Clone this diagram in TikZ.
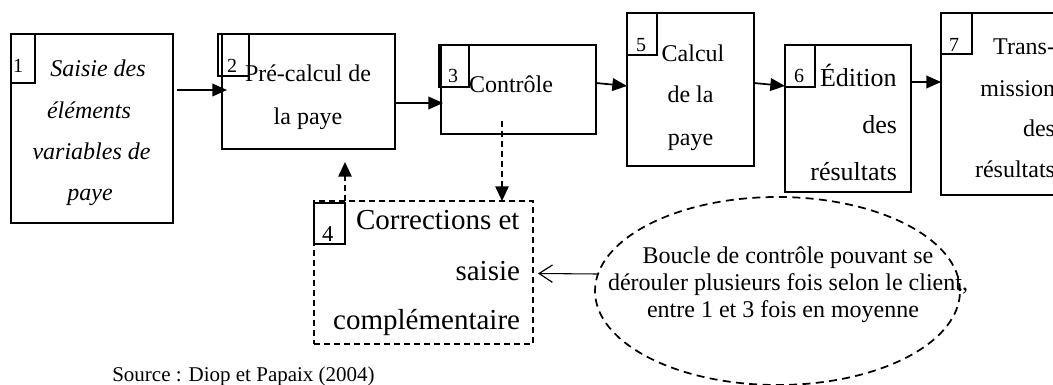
\documentclass[tikz,border=0pt]{standalone}
\usepackage{fontspec}
\setmainfont{Liberation Serif}
\usetikzlibrary{arrows.meta,shapes.geometric,fit,calc}
\newcommand\myfs[1]{\fontsize{#1}{#1}\selectfont}
\begin{document}
\begin{tikzpicture}[x=0.75pt,y=-0.75pt,
  box/.style={draw, line width=1.3pt, inner sep=0pt, outer sep=0pt},
  dbox/.style={draw, line width=1.3pt, inner sep=0pt, outer sep=0pt, dash pattern=on 4.5pt off 3pt},
  numtxt/.style={inner sep=0pt, outer sep=0pt, anchor=base west, font=\myfs{15pt}},
  txt/.style={inner sep=0pt, outer sep=0pt, font=\myfs{18pt}},
  txtsix/.style={inner sep=0pt, outer sep=0pt, font=\myfs{19.5pt}},
  txtfour/.style={inner sep=0pt, outer sep=0pt, font=\myfs{21.75pt}},
  arr/.style={line width=1.3pt, -{Triangle[length=11pt,width=9.5pt]}},
  darr/.style={line width=1.3pt, dash pattern=on 4.5pt off 3pt, -{Triangle[length=11pt,width=10pt]}},
  oarr/.style={line width=0.8pt, -{Straight Barb[length=10pt,width=13pt,line width=0.9pt]}},
  ell/.style={draw, ellipse, line width=1.3pt, dash pattern=on 6pt off 4pt, inner sep=0pt,
    minimum width=273.75pt, minimum height=141pt}
]
\useasboundingbox (0,0) rectangle (1053,385);
\begin{scope}
\clip (0,0) rectangle (1053,385);
% main boxes
\node[box, fit={(11,34) (173,223)}] (b1) {};
\node[box, fit={(222,34) (395,149)}] (b2) {};
\node[box, fit={(441,45) (596,134)}] (b3) {};
\node[box, fit={(627,13) (754,166)}] (b5) {};
\node[box, fit={(785,45) (911,192)}] (b6) {};
\node[box, fit={(941,13) (1065,195)}] (b7) {};
\node[dbox, fit={(314,201) (533,344)}] (b4) {};
% number boxes
\node[box, fit={(11,34) (35,83)}] (n1) {};
\node[box, fit={(218,34) (249,76)}] (n2) {};
\node[box, fit={(439,45) (469,87)}] (n3) {};
\node[box, fit={(627,13) (657,55)}] (n5) {};
\node[box, fit={(785,45) (815,87)}] (n6) {};
\node[box, fit={(941,13) (972,54)}] (n7) {};
\node[box, fit={(314,203) (345,244)}] (n4) {};
% numbers
\node[numtxt] (l1) at (13,73) {1};
\node[numtxt] (l2) at (227,73) {2};
\node[numtxt] (l3) at (448,83) {3};
\node[numtxt] (l5) at (636,52) {5};
\node[numtxt] (l6) at (794,83) {6};
\node[numtxt] (l7) at (949,52) {7};
\node[numtxt, font=\myfs{17pt}] (l4) at (322,241) {4};
% box 1 text
\node[txt, anchor=base, font=\myfs{18pt}\itshape] (t1a) at (98,77) {Saisie des};
\node[txt, anchor=base, font=\myfs{18pt}\itshape] (t1b) at (89,118) {éléments};
\node[txt, anchor=base, font=\myfs{18pt}\itshape] (t1c) at (91.5,159) {variables de};
\node[txt, anchor=base, font=\myfs{18pt}\itshape] (t1d) at (90,200) {paye};
% box 2 text
\node[txt, anchor=base west] (t2a) at (245,82) {Pré-calcul de};
\node[txt, anchor=base] (t2b) at (308,124) {la paye};
% box 3 text
\node[txt, anchor=base west] (t3a) at (469,93) {Contrôle};
% box 5 text
\node[txt, anchor=base] (t5a) at (693,62) {Calcul};
\node[txt, anchor=base] (t5b) at (690.5,103) {de la};
\node[txt, anchor=base] (t5c) at (690.5,145) {paye};
% box 6 text
\node[txtsix, anchor=base west] (t6a) at (820,87) {Édition};
\node[txtsix, anchor=base east] (t6b) at (897,133) {des};
\node[txtsix, anchor=base east] (t6c) at (897,180) {résultats};
% box 7 text
\node[txt, anchor=base east] (t7a) at (1055,55) {Trans-};
\node[txt, anchor=base east] (t7b) at (1055,97) {mission};
\node[txt, anchor=base east] (t7c) at (1055,137) {des};
\node[txt, anchor=base east] (t7d) at (1055,177) {résultats};
% box 4 text
\node[txtfour, anchor=base west] (t4a) at (356,229) {Corrections et};
\node[txtfour, anchor=base east] (t4b) at (520,280) {saisie};
\node[txtfour, anchor=base east] (t4c) at (520,329) {complémentaire};
% ellipse
\node[ell] (el) at (777.5,291) {};
\node[txt, anchor=base] (e1) at (788,263) {Boucle de contrôle pouvant se};
\node[txt, anchor=base] (e2) at (788,290) {dérouler plusieurs fois selon le client,};
\node[txt, anchor=base] (e3) at (783,317) {entre 1 et 3 fois en moyenne};
% source
\node[inner sep=0pt, anchor=base west, font=\myfs{15.75pt}] (src) at (112,381) {Source : Diop et Papaix (2004)};
% connectors
\draw[arr] ($(b1.north east)+(4,56)$) -- ($(b2.north west)+(5,56)$);
\draw[arr] ($(b2.north east)+(0,69)$) -- ($(b3.north west)+(2,58)$);
\draw[arr] ($(b3.north east)+(0,38)$) -- ($(b5.north west)+(0,73)$);
\draw[arr] ($(b5.north east)+(0,70)$) -- ($(b6.north west)+(0,41)$);
\draw[arr] ($(b6.north east)+(0,37)$) -- ($(b7.north west)+(0,69)$);
\coordinate (upend) at ($(b2.south west)+(123,13)$);
\draw[darr] ($(b4.north west)+(31,0)$) -- (upend);
\draw[darr] ($(b3.south west)+(61,-13)$) -- ($(b4.north west)+(188,0)$);
\draw[oarr] ($(el.west)+(3,-17)$) -- ($(b4.east)+(5,1)$);
\end{scope}
\end{tikzpicture}
\end{document}
